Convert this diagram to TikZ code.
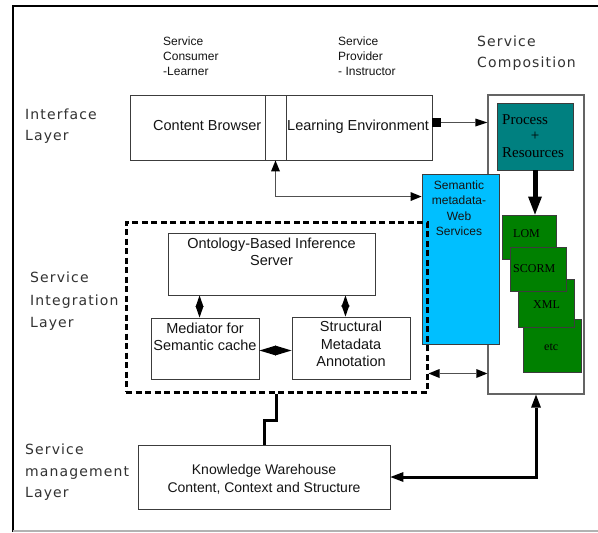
\documentclass[tikz,border=0pt]{standalone}
\usepackage{fontspec}
\setmainfont{Liberation Sans}
\newfontfamily\serifface{Liberation Serif}
\newfontfamily\wideface[LetterSpace=8]{DejaVu Sans}
\usetikzlibrary{fit,arrows.meta}
\definecolor{teal1}{RGB}{0,128,128}
\definecolor{green1}{RGB}{0,128,0}
\definecolor{sky}{RGB}{0,191,255}
\definecolor{boxgray}{RGB}{60,60,60}
\definecolor{scgray}{RGB}{100,100,100}
\definecolor{txt}{RGB}{20,20,20}
\definecolor{laycol}{RGB}{50,50,50}
\definecolor{lgray}{RGB}{80,80,80}
\begin{document}
\begin{tikzpicture}[x=1pt,y=-1pt,
  box/.style={draw=boxgray,line width=0.9pt,inner sep=0pt},
  sm/.style={inner sep=0pt,anchor=base west,text=txt,font=\fontsize{12}{14}\selectfont},
  smc/.style={sm,anchor=base},
  big/.style={inner sep=0pt,anchor=base,text=txt,font=\fontsize{14.5}{17}\selectfont},
  bigw/.style={big,anchor=base west},
  layer/.style={inner sep=0pt,anchor=base west,text=laycol,font=\wideface\fontsize{14}{17}\selectfont},
  ser/.style={inner sep=0pt,anchor=base west,text=black,font=\serifface\fontsize{12}{14}\selectfont},
  serbig/.style={inner sep=0pt,anchor=base west,text=black,font=\serifface\fontsize{15}{17}\selectfont},
  thinarr/.style={draw=lgray,line width=1pt,-{Triangle[length=12pt,width=8pt,line width=0pt,color=black]}},
  thindbl/.style={draw=lgray,line width=1pt,{Triangle[length=11pt,width=9pt,line width=0pt,color=black]}-{Triangle[length=11pt,width=9pt,line width=0pt,color=black]}},
  bigarr/.style={draw=black,line width=5pt,-{Triangle[length=18pt,width=14pt,line width=0pt]}},
  bigdbl/.style={draw=black,line width=3pt,line join=miter,{Triangle[length=13pt,width=10pt,line width=0pt]}-{Triangle[length=13pt,width=10pt,line width=0pt]}},
  bigline/.style={draw=black,line width=3pt,line join=miter},
  vdiam/.style={draw=black,line width=0.8pt,{Triangle[length=11.5pt,width=8pt,line width=0pt]}-{Triangle[length=11.5pt,width=8pt,line width=0pt]}},
  hdiam/.style={draw=black,line width=0.8pt,{Triangle[length=16.5pt,width=10pt,line width=0pt]}-{Triangle[length=16.5pt,width=10pt,line width=0pt]}}
]
\fill[white] (0,0) rectangle (598,533);
\useasboundingbox (0,0) rectangle (598,533);
% frame
\draw[line width=2pt,black] (598,6) -- (13,6) -- (13,532);
\draw[line width=1.2pt,black!30] (13,531) -- (598,531);

% header labels
\node[sm] (c1) at (163,45) {Service};
\node[sm] (c2) at (163,60) {Consumer};
\node[sm] (c3) at (163,75) {-Learner};
\node[sm] (p1) at (338,45) {Service};
\node[sm] (p2) at (338,60) {Provider};
\node[sm] (p3) at (338,75) {- Instructor};
\node[layer] (s1) at (477,46) {Service};
\node[layer] (s2) at (477,67) {Composition};
\node[layer] (i1) at (25,119) {Interface};
\node[layer] (i2) at (25,140) {Layer};
\node[layer] (g1) at (30,282) {Service};
\node[layer] (g2) at (30,305) {Integration};
\node[layer] (g3) at (30,327) {Layer};
\node[layer] (m1) at (25,454) {Service};
\node[layer] (m2) at (25,476) {management};
\node[layer] (m3) at (25,497) {Layer};

% boxes
\node[box,fit={(130,95) (432,160)}] (ie) {};
\node[box,fit={(265,95) (286,160)}] (sr) {};
\node[fill=black,inner sep=0pt,fit={(432,118) (441,127)}] (sq) {};
\node[box,draw=scgray,line width=1.3pt,fit={(488,95) (584,394)}] (sc) {};
\node[box,fill=teal1,fit={(497,103) (573,170)}] (pr) {};
\node[box,fill=green1,fit={(502,215) (556,259)}] (lom) {};
\node[box,fill=green1,fit={(523,319) (581,372)}] (etc) {};
\node[box,fill=green1,fit={(518,279) (574,327)}] (xml) {};
\node[box,fill=green1,fit={(510,247) (566,291)}] (scorm) {};
\node[box,fill=sky,fit={(422,174) (499,344)}] (sem) {};
\node[draw=black,line width=3pt,dash pattern=on 6pt off 3.5pt,inner sep=0pt,fit={(126,222) (427,392)}] (dash) {};
\node[box,fit={(168,233) (375,295)}] (ont) {};
\node[box,fit={(151,318) (259,379)}] (med) {};
\node[box,fit={(292,317) (410,379)}] (str) {};
\node[box,fit={(138,445) (390,509)}] (kw) {};

% box texts
\node[bigw] (tcb) at (153,130) {Content Browser};
\node[bigw] (tle) at (287,130) {Learning Environment};
\node[serbig] (tp1) at (502,124) {Process};
\node[serbig,anchor=base] (tp2) at (535,140) {+};
\node[serbig] (tp3) at (502,157) {Resources};
\node[ser] (tlom) at (513,237) {LOM};
\node[ser] (tsc) at (513,272) {SCORM};
\node[ser] (txml) at (533,308) {XML};
\node[ser] (tetc) at (544,350) {etc};
\node[smc] (tw1) at (459,189) {Semantic};
\node[smc] (tw2) at (459,204.5) {metadata-};
\node[smc] (tw3) at (459,220) {Web};
\node[smc] (tw4) at (459,235.5) {Services};
\node[big] (to1) at (271.5,248) {Ontology-Based Inference};
\node[big] (to2) at (271.5,265) {Server};
\node[big] (tm1) at (205,333) {Mediator for};
\node[big] (tm2) at (205,350) {Semantic cache};
\node[big] (ts1) at (351,331.5) {Structural};
\node[big] (ts2) at (351,349) {Metadata};
\node[big] (ts3) at (351,366) {Annotation};
\node[big,font=\fontsize{14}{17}\selectfont] (tk1) at (264,474) {Knowledge Warehouse};
\node[big,font=\fontsize{14}{17}\selectfont] (tk2) at (264,492) {Content, Context and Structure};

% connectors
\draw[thinarr] (sq.east) -- (sq.east -| sc.west);
\draw[thindbl] (sr.south) |- ([yshift=-23pt]sem.north west);
\draw[bigarr] (pr.south) -- (pr.south |- lom.north);
\draw[vdiam] ([xshift=32pt]ont.south west) -- ([xshift=32pt]ont.south west |- med.north);
\draw[vdiam] ([xshift=-30pt]ont.south east) -- ([xshift=-30pt]ont.south east |- str.north);
\draw[hdiam] ([yshift=-2pt]med.east) -- ([yshift=-2pt]med.east -| str.west);
\draw[thindbl] ([yshift=20pt]dash.south east) -- ([yshift=20pt]dash.south east -| sc.west);
\draw[bigline] (dash.south) -- ++(0,27) -| (kw.north);
\draw[bigdbl] (kw.east) -| (sc.south);
\end{tikzpicture}
\end{document}
